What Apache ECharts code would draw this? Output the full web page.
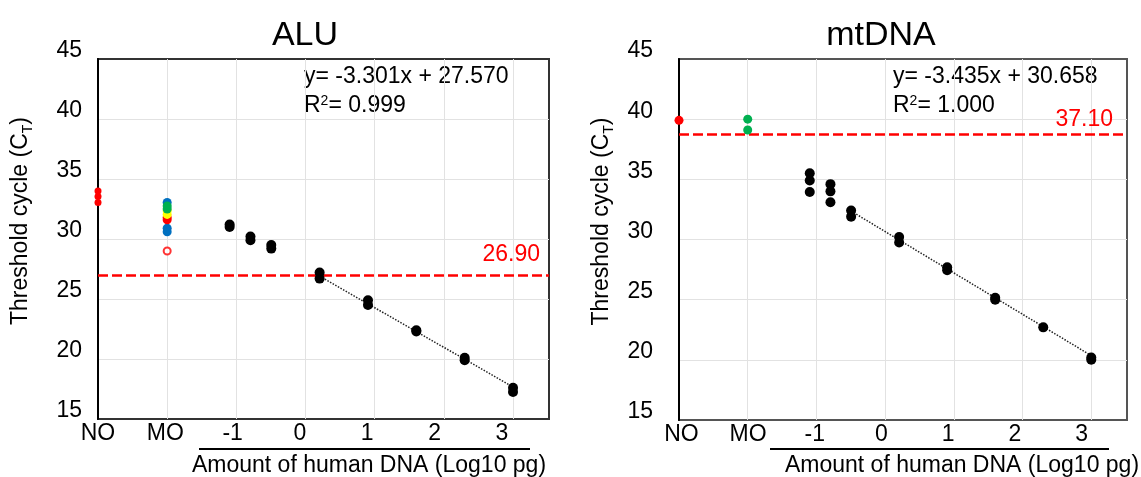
<!DOCTYPE html>
<html>
<head>
<meta charset="utf-8">
<script src="https://cdn.jsdelivr.net/npm/echarts@6/dist/echarts.min.js"></script>
<style>
html, body { margin: 0; padding: 0; background: #fff; }
#chart { width: 1141px; height: 477px; }
</style>
</head>
<body>
<div id="chart"></div>
<script>
// ---------- data ----------
const xTickValues = [-3, -2, -1, 0, 1, 2, 3];
const xTickLabels = ['NO', 'MO', '-1', '0', '1', '2', '3'];
const NO_X = -3;
const MO_X = -2;
const dilutionX = [-1.097, -0.796, -0.495, 0.204, 0.903, 1.602, 2.301, 3];

// ALU
const aluNO = [34.0, 33.55, 33.05];
const aluMOBlue = [33.05, 30.9, 30.6];
const aluMORed = [31.8, 31.6];
const aluMOYellow = [32.35, 32.05];
const aluMOGreen = [32.75, 32.5];
const aluMORedOpen = [29.0];
const aluCt = [[31.2, 31.0], [30.2, 29.9], [29.5, 29.2], [27.2, 26.7], [24.9, 24.5], [22.4, 22.3], [20.1, 19.9], [17.6, 17.25]];
const aluTrendX = [0.204, 3];
const aluTrendY = [26.9, 17.67];
const aluThreshold = 27.0;
const aluThresholdText = '26.90';
const aluEq1 = 'y= -3.301x + 27.570';
const aluR2 = '0.999';

// mtDNA
const mtNO = [39.9];
const mtMOGreen = [40.0, 39.1];
const mtCt = [[35.5, 34.9, 33.95], [34.6, 34.0, 33.1], [32.4, 31.9], [30.2, 29.75], [27.7, 27.45], [25.15, 25.0], [22.7], [20.2, 20.0]];
const mtTrendX = [-0.495, 3];
const mtTrendY = [32.36, 20.35];
const mtThreshold = 38.75;
const mtThresholdText = '37.10';
const mtEq1 = 'y= -3.435x + 30.658';
const mtR2 = '1.000';

const titles = ['ALU', 'mtDNA'];
const yName = 'Threshold cycle (C{sub|T})';
const xName = 'Amount of human DNA (Log10 pg)';

// ---------- helpers ----------
const FONT = 'Liberation Sans, Arial, Helvetica, sans-serif';
function pts(x, ys) { return ys.map(function (y) { return [x, y]; }); }
function dil(xs, groups) {
  const out = [];
  xs.forEach(function (x, i) { groups[i].forEach(function (y) { out.push([x, y]); }); });
  return out;
}
function labelFmt(v) {
  const i = xTickValues.indexOf(Math.round(v));
  return (i >= 0 && Math.abs(v - Math.round(v)) < 1e-6) ? xTickLabels[i] : '';
}
const RED = '#FF0000', BLUE = '#0070C0', GREEN = '#00B050', YELLOW = '#FFFF00', BLACK = '#000000';

function scatter(name, data, xi, yi, color, size, extra) {
  return Object.assign({
    name: name, type: 'scatter', xAxisIndex: xi, yAxisIndex: yi,
    data: data, symbol: 'circle', symbolSize: size,
    itemStyle: { color: color, opacity: 1 }, z: 5, silent: true
  }, extra || {});
}
function trend(tx, ty, xi, yi, thr, thrText, dist) {
  return {
    type: 'line', xAxisIndex: xi, yAxisIndex: yi,
    data: tx.map(function (x, i) { return [x, ty[i]]; }),
    showSymbol: false, symbol: 'none', silent: true, z: 3,
    lineStyle: { color: '#222', width: 1.5, type: [1.5, 1.5] },
    markLine: {
      silent: true, symbol: 'none', animation: false,
      lineStyle: { color: RED, width: 2.5, type: [10, 4] },
      label: { show: true, formatter: thrText, position: 'insideEndTop', color: RED, fontSize: 23, fontFamily: FONT, distance: dist },
      data: [{ yAxis: thr }]
    }
  };
}
function mainX(gi) {
  return {
    gridIndex: gi, type: 'value', min: -3, max: 3.52, interval: 1,
    axisLine: { show: false, onZero: false }, axisTick: { show: false }, axisLabel: { show: false },
    splitLine: { show: true, showMinLine: false, showMaxLine: false, lineStyle: { color: '#e2e2e2', width: 1 } }
  };
}
function labelX(gi, mn, mx) {
  return {
    gridIndex: gi, type: 'value', position: 'bottom', min: mn, max: mx,
    axisLine: { show: false, onZero: false }, axisTick: { show: false }, splitLine: { show: false },
    axisLabel: { show: true, customValues: xTickValues, formatter: labelFmt, margin: 3, fontSize: 23, color: '#000', fontFamily: FONT }
  };
}
function yAx(gi, margin) {
  return {
    gridIndex: gi, type: 'value', min: 15, max: 45, interval: 5,
    axisLine: { show: true, onZero: false, lineStyle: { color: '#000', width: 2 } },
    axisTick: { show: false },
    axisLabel: { fontSize: 23, color: '#000', fontFamily: FONT, margin: margin, verticalAlign: 'bottom', lineHeight: 16 },
    splitLine: { show: true, showMinLine: false, showMaxLine: false, lineStyle: { color: '#e2e2e2', width: 1 } },
    name: yName, nameLocation: 'middle', nameGap: 66, nameRotate: 90,
    nameTextStyle: {
      fontSize: 23, color: '#000', fontFamily: FONT, padding: [0, 0, 0, 36],
      rich: { sub: { fontSize: 14, color: '#000', fontFamily: FONT, verticalAlign: 'bottom', padding: [0, 0, -3, 0] } }
    }
  };
}
function eqText(x, line1, r2) {
  return [
    { type: 'text', x: x, y: 65, silent: true, style: { text: line1, fontSize: 23, fontFamily: FONT, fill: '#000' } },
    { type: 'text', x: x, y: 94, silent: true, style: {
      text: '{n|R}{s|2}{n|= ' + r2 + '}', fill: '#000', fontSize: 23, fontFamily: FONT,
      rich: { n: { fontSize: 23, fontFamily: FONT, fill: '#000', color: '#000' }, s: { fontSize: 14, fontFamily: FONT, fill: '#000', color: '#000', verticalAlign: 'top' } }
    } }
  ];
}
function xNameText(cx, x1, x2) {
  return [
    { type: 'line', silent: true, shape: { x1: x1, y1: 449, x2: x2, y2: 449 }, style: { stroke: '#000', lineWidth: 2 } },
    { type: 'text', x: cx, y: 466, silent: true, style: { text: xName, fontSize: 23, fontFamily: FONT, fill: '#000', align: 'center', verticalAlign: 'middle', textAlign: 'center', textVerticalAlign: 'middle' } }
  ];
}

const chart = echarts.init(document.getElementById('chart'), null, { renderer: 'canvas' });
const option = {
  animation: false,
  backgroundColor: '#fff',
  textStyle: { fontFamily: FONT },
  title: [
    { text: titles[0], left: 300, top: 31, textAlign: 'center', textVerticalAlign: 'middle', textStyle: { fontSize: 34, fontWeight: 'normal', color: '#000', fontFamily: FONT } },
    { text: titles[1], left: 876, top: 31, textAlign: 'center', textVerticalAlign: 'middle', textStyle: { fontSize: 34, fontWeight: 'normal', color: '#000', fontFamily: FONT } }
  ],
  grid: [
    { left: 98, top: 59, width: 451, height: 360, show: true, borderColor: '#333', borderWidth: 2, backgroundColor: 'transparent' },
    { left: 679, top: 59, width: 448, height: 361, show: true, borderColor: '#555', borderWidth: 2, backgroundColor: 'transparent' }
  ],
  xAxis: [mainX(0), labelX(0, -3, 3.70), mainX(1), labelX(1, -3.036, 3.68)],
  yAxis: [yAx(0, 16), yAx(1, 26)],
  graphic: [].concat(
    eqText(304, aluEq1, aluR2),
    eqText(893, mtEq1, mtR2),
    xNameText(369, 199, 530),
    xNameText(962, 770, 1109)
  ),
  series: [
    trend(aluTrendX, aluTrendY, 0, 0, aluThreshold, aluThresholdText, [9, 9]),
    scatter('ALU NO', pts(NO_X, aluNO), 0, 0, RED, 7),
    scatter('ALU MO blue', pts(MO_X, aluMOBlue), 0, 0, BLUE, 9),
    scatter('ALU MO red', pts(MO_X, aluMORed), 0, 0, RED, 9),
    scatter('ALU MO yellow', pts(MO_X, aluMOYellow), 0, 0, YELLOW, 9),
    scatter('ALU MO green', pts(MO_X, aluMOGreen), 0, 0, GREEN, 9),
    scatter('ALU MO open', pts(MO_X, aluMORedOpen), 0, 0, '#fff', 7, { itemStyle: { color: '#fff', borderColor: RED, borderWidth: 2 } }),
    scatter('ALU std', dil(dilutionX, aluCt), 0, 0, BLACK, 10),

    trend(mtTrendX, mtTrendY, 2, 1, mtThreshold, mtThresholdText, [14, 3]),
    scatter('mt NO', pts(NO_X, mtNO), 2, 1, RED, 9),
    scatter('mt MO green', pts(MO_X, mtMOGreen), 2, 1, GREEN, 9),
    scatter('mt std', dil(dilutionX, mtCt), 2, 1, BLACK, 10)
  ]
};
chart.setOption(option);
</script>
</body>
</html>
